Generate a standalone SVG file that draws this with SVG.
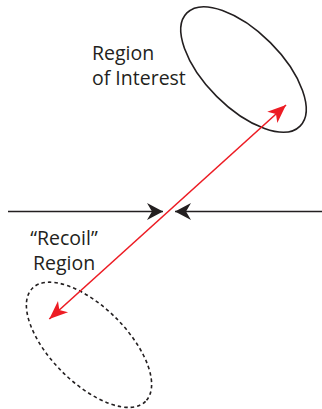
<svg xmlns="http://www.w3.org/2000/svg" width="322" height="409" viewBox="0 0 322 409">
<style>
.lbl{font-family:"Open Sans","Liberation Sans",sans-serif;font-size:19.5px;fill:#231f20}
.ell{fill:none;stroke:#231f20;stroke-width:1.6}
.blk{stroke:#231f20;stroke-width:1.6;fill:none}
.red{stroke:#ed1c24;stroke-width:1.6;fill:none}
</style>
<defs>
<marker id="ah-black" markerUnits="userSpaceOnUse" markerWidth="20" markerHeight="20" viewBox="-18 -10 20 20" refX="0" refY="0" orient="auto">
<path d="M0,0 L-16,-8.5 L-11,0 L-16,8.5 Z" fill="#231f20"/>
</marker>
<marker id="ah-red" markerUnits="userSpaceOnUse" markerWidth="22" markerHeight="20" viewBox="-20 -10 22 20" refX="0" refY="0" orient="auto-start-reverse">
<path d="M0,0 L-18.5,-7.5 L-13.5,0 L-18.5,7.5 Z" fill="#ed1c24"/>
</marker>
</defs>
<g id="roi">
<ellipse class="ell" cx="243.5" cy="69.5" rx="80" ry="38" transform="rotate(45 243.5 69.5)"/>
<text class="lbl" x="92" y="60">Region</text>
<text class="lbl" x="92" y="85">of Interest</text>
</g>
<g id="recoil">
<ellipse class="ell" cx="89" cy="344.8" rx="80" ry="38" transform="rotate(45 89 344.8)" stroke-dasharray="3.5 3"/>
<text class="lbl" x="64" y="245" text-anchor="middle">“Recoil”</text>
<text class="lbl" x="64" y="270" text-anchor="middle">Region</text>
</g>
<g id="connectors">
<line class="blk" x1="8" y1="211.5" x2="163" y2="211.5" marker-end="url(#ah-black)"/>
<line class="blk" x1="322" y1="211.5" x2="175" y2="211.5" marker-end="url(#ah-black)"/>
<line class="red" x1="49.3" y1="319" x2="286" y2="105" marker-start="url(#ah-red)" marker-end="url(#ah-red)"/>
</g>
</svg>
